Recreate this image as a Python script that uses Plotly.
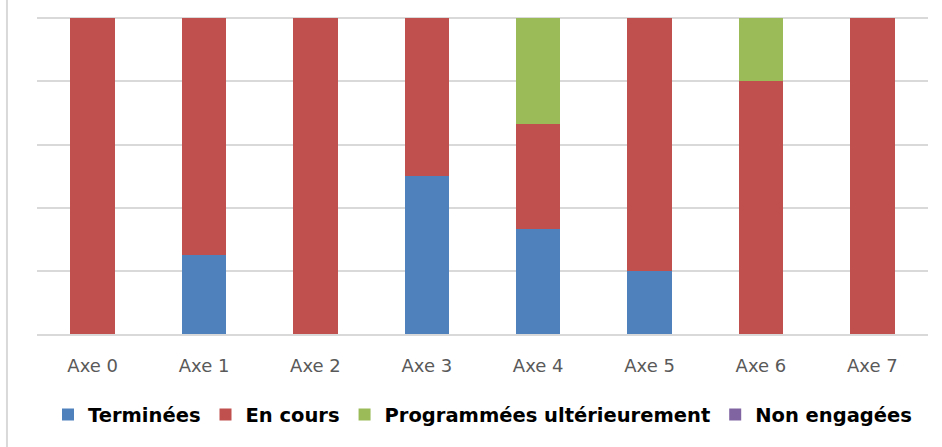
import plotly.graph_objects as go

axes = ["Axe 0", "Axe 1", "Axe 2", "Axe 3", "Axe 4", "Axe 5", "Axe 6", "Axe 7"]
terminees = [0, 25, 0, 50, 33.3, 20, 0, 0]
en_cours = [100, 75, 100, 50, 33.3, 80, 80, 100]
programmees = [0, 0, 0, 0, 33.4, 0, 20, 0]
non_engagees = [0, 0, 0, 0, 0, 0, 0, 0]

series = [
    ("Terminées", terminees, "#4F81BD"),
    ("En cours", en_cours, "#C0504D"),
    ("Programmées ultérieurement", programmees, "#9BBB59"),
    ("Non engagées", non_engagees, "#8064A2"),
]

fig = go.Figure()
for name, vals, col in series:
    fig.add_trace(go.Bar(x=axes, y=vals, name="<b>" + name + "</b>",
                         marker_color=col, marker_line_width=0))

fig.update_layout(
    barmode="stack",
    bargap=0.6,
    width=942, height=447,
    margin=dict(l=37, r=14, t=17, b=113),
    plot_bgcolor="white", paper_bgcolor="white",
    font=dict(family="DejaVu Sans", color="#595959"),
    legend=dict(orientation="h", x=0.5, xanchor="center", y=-0.255, yanchor="middle",
                font=dict(size=19.5, color="black", family="DejaVu Sans"),
                itemwidth=30, traceorder="normal"),
    xaxis=dict(showline=True, linecolor="#D9D9D9", linewidth=2,
               tickfont=dict(size=18, color="#595959"), ticks="",
               ticklabelstandoff=14),
    yaxis=dict(range=[0, 100.4], tickvals=[0, 20, 40, 60, 80, 100],
               showticklabels=False, gridcolor="#D9D9D9", gridwidth=2,
               zeroline=False),
    showlegend=True,
)
fig.add_shape(type="line", xref="paper", yref="paper",
              x0=-0.0337, x1=-0.0337, y0=-0.36, y1=1.06,
              line=dict(color="#D9D9D9", width=2))

fig.write_html("out.html", config={"displayModeBar": False},
               post_script="document.body.style.margin='0';")
